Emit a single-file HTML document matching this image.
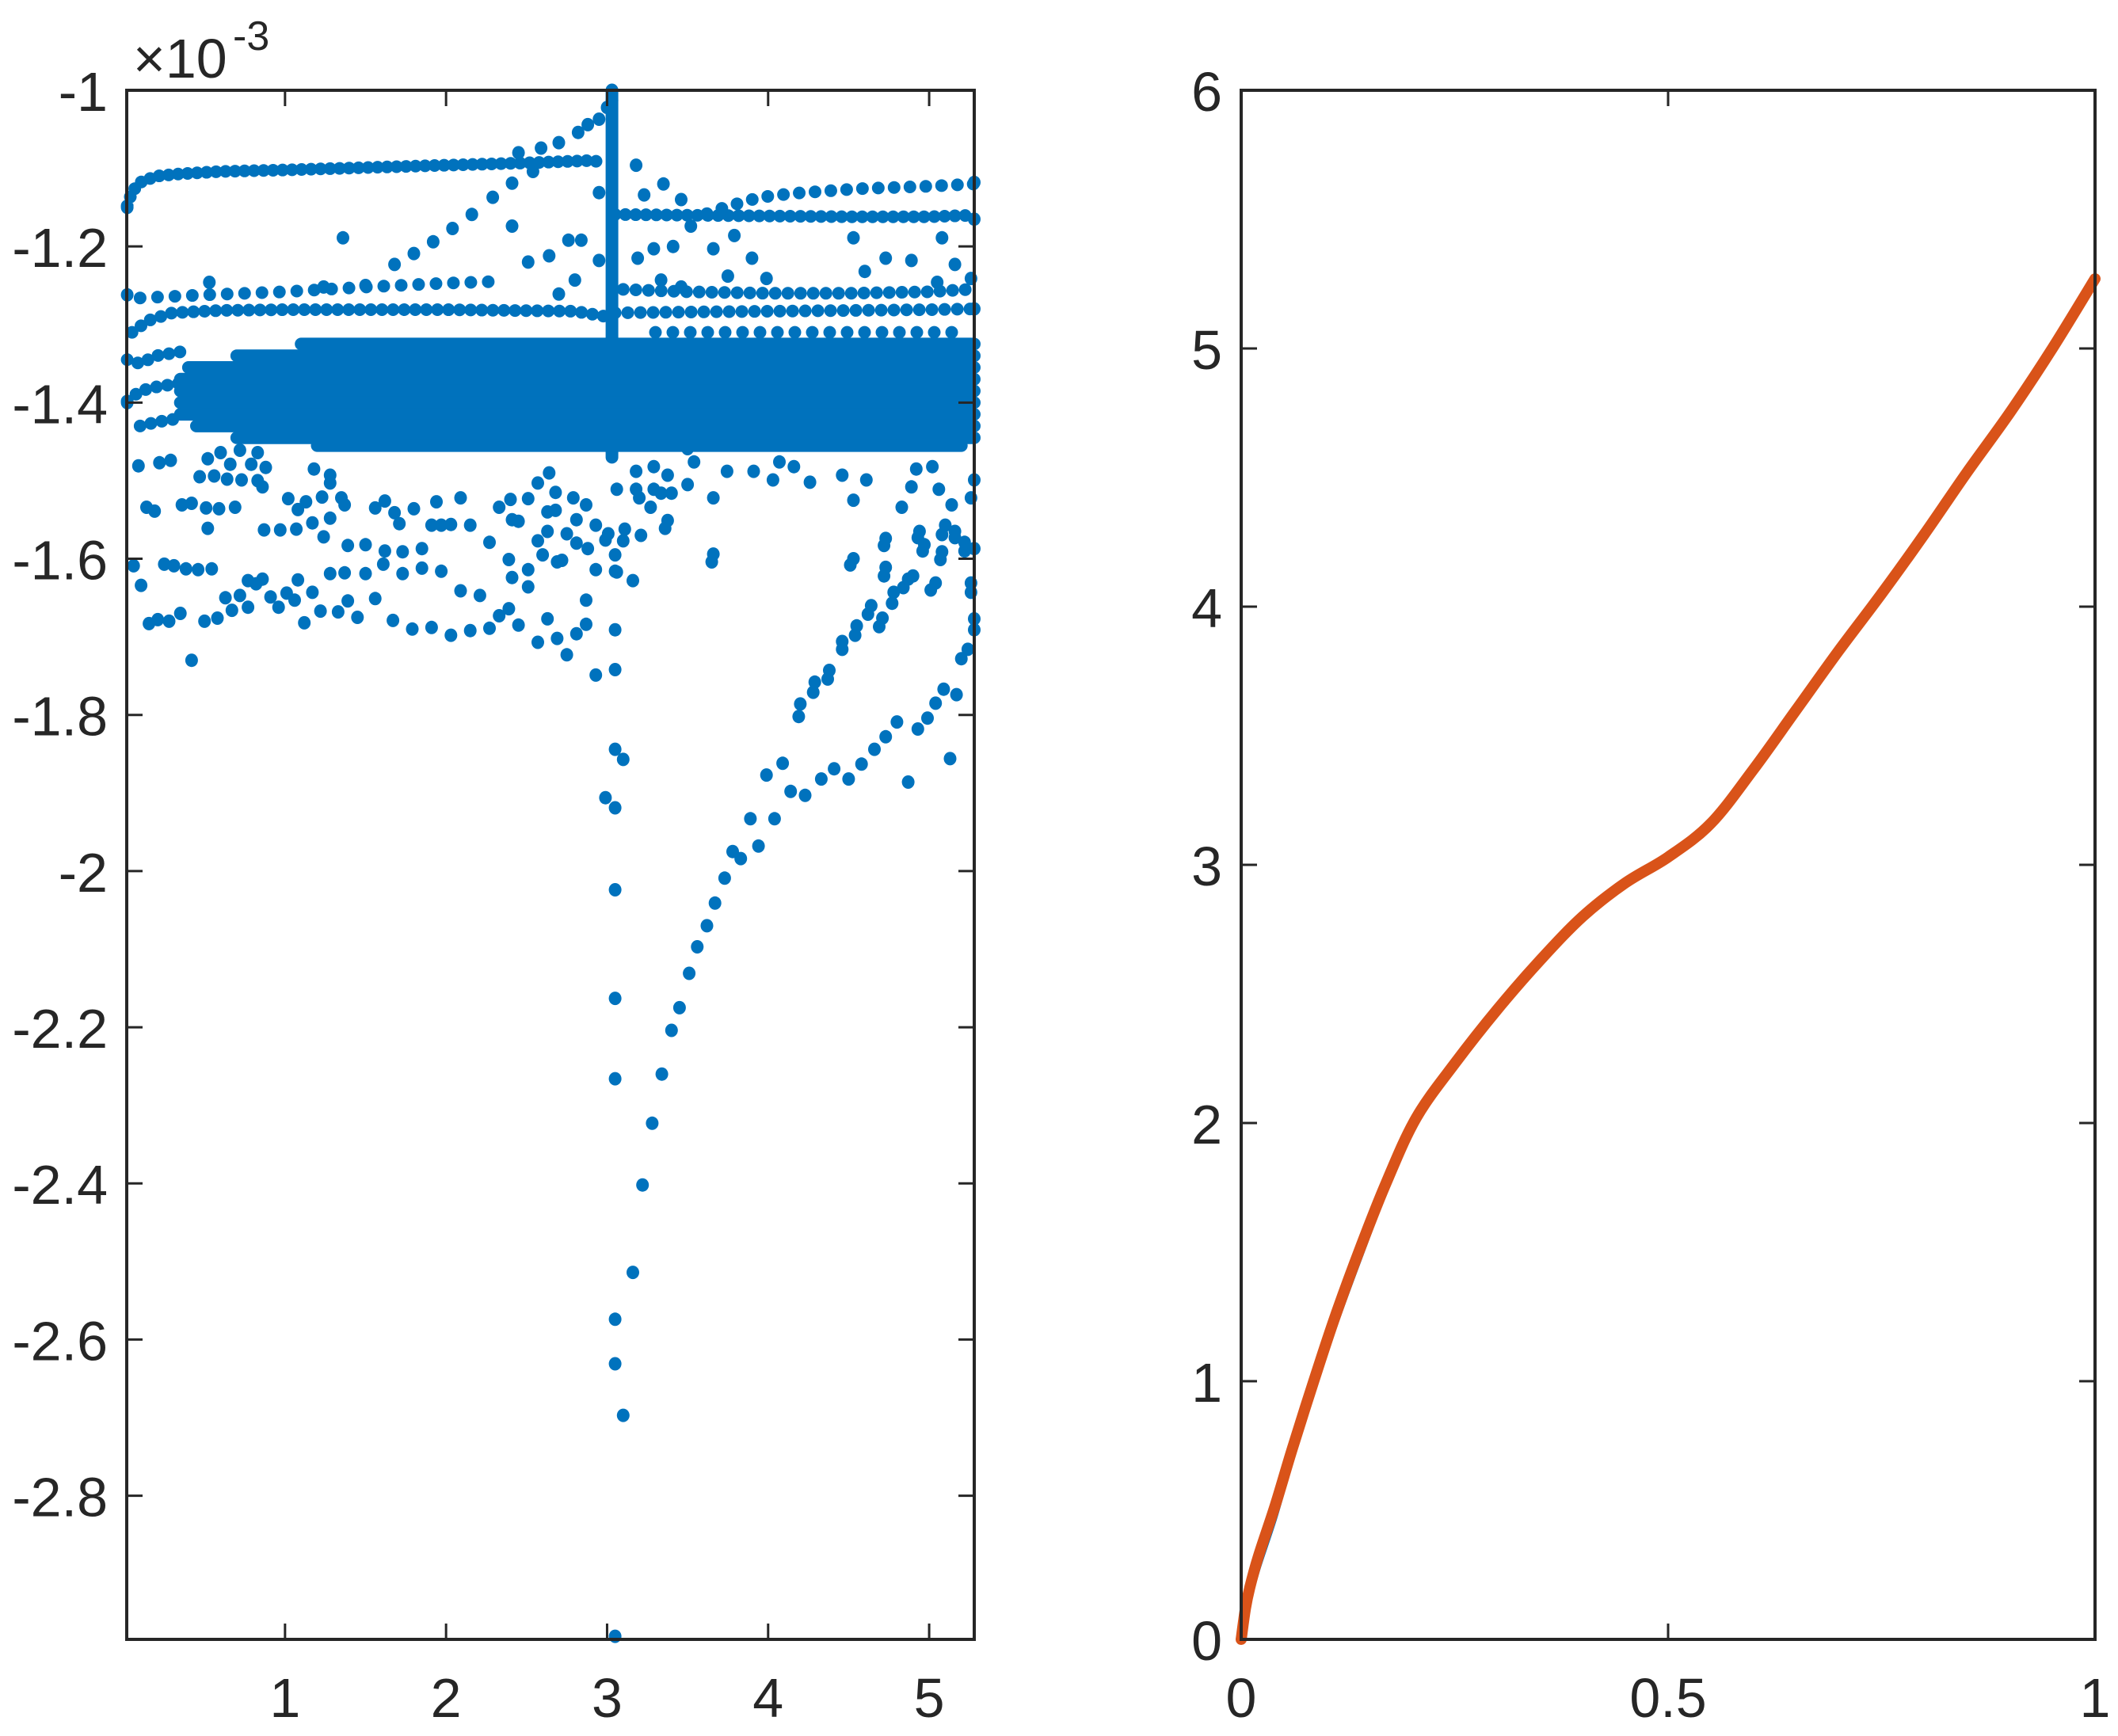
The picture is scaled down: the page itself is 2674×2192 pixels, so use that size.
<!DOCTYPE html>
<html><head><meta charset="utf-8"><title>Scatter and curve</title>
<style>
html,body{margin:0;padding:0;background:#fff;}
svg{display:block;font-family:"Liberation Sans",Arial,sans-serif;}
text{fill:#262626;}
</style></head>
<body>
<svg id="fig" width="2674" height="2192" viewBox="0 0 2674 2192" xmlns="http://www.w3.org/2000/svg">
<rect x="0" y="0" width="2674" height="2192" fill="#fff"/>
<g id="left"></g>
<g id="right"></g>
</svg>
<script>
// ---------- LEFT PANEL DATA ----------
const leftXTicks = [1,2,3,4,5];
const leftXTickLabels = ["1","2","3","4","5"];
const leftYTicks = [-1,-1.2,-1.4,-1.6,-1.8,-2,-2.2,-2.4,-2.6,-2.8];
const leftYTickLabels = ["-1","-1.2","-1.4","-1.6","-1.8","-2","-2.2","-2.4","-2.6","-2.8"];
const leftXLim = [0.017,5.28];
const leftYLim = [-2.984,-1];

const topBandX = [0.02,0.05,0.1,0.2,0.35,0.6,1.0,1.5,2.0,2.5,2.9,2.97];
const topBandY = [-1.148,-1.13,-1.118,-1.11,-1.107,-1.104,-1.102,-1.099,-1.096,-1.093,-1.09,-1.092];
const verticalX = [3.03,3.03];
const verticalY = [-1.0,-1.47];
const bandR1X = [3.05,3.5,4.0,4.5,5.0,5.28];
const bandR1Y = [-1.159,-1.16,-1.161,-1.162,-1.162,-1.16];
const bandR2X = [3.62,3.745,3.95,4.16,4.57,4.98,5.28];
const bandR2Y = [-1.158,-1.149,-1.137,-1.132,-1.126,-1.123,-1.12];
const bandBX = [0.1,0.5,1.0,1.5,2.0,2.3];
const bandBY = [-1.266,-1.262,-1.258,-1.252,-1.247,-1.245];
const bandCX = [0.05,0.15,0.3,0.6,1.0,2.0,2.8,3.0];
const bandCY = [-1.31,-1.295,-1.285,-1.282,-1.281,-1.281,-1.283,-1.29];
const bandR3X = [3.1,3.5,4.0,4.5,5.0,5.25];
const bandR3Y = [-1.255,-1.258,-1.26,-1.26,-1.258,-1.255];
const bandR4X = [3.05,3.5,4.0,4.5,5.0,5.28];
const bandR4Y = [-1.285,-1.284,-1.283,-1.282,-1.281,-1.28];
const bandR5X = [3.3,3.8,4.3,4.8,5.2];
const bandR5Y = [-1.31,-1.31,-1.31,-1.31,-1.31];
const leftBand1X = [0.02,0.1,0.2,0.35];
const leftBand1Y = [-1.345,-1.35,-1.34,-1.335];
const leftBand2X = [0.02,0.1,0.2,0.35];
const leftBand2Y = [-1.398,-1.385,-1.38,-1.375];
const leftBand3X = [0.1,0.2,0.35];
const leftBand3Y = [-1.43,-1.425,-1.42];
const blobLevels = [-1.325,-1.34,-1.355,-1.37,-1.385,-1.40,-1.415,-1.43,-1.445,-1.455];
const blobStart  = [1.1,0.7,0.4,0.35,0.35,0.35,0.35,0.45,0.7,1.2];
const blobEnd    = [5.28,5.28,5.28,5.28,5.28,5.28,5.28,5.28,5.28,5.2];

const spikePoints = [[2.45,-1.08],[2.59,-1.074],[2.70,-1.067],[2.82,-1.054],[2.88,-1.044],[2.95,-1.037],[3.0,-1.022],[3.03,-1.013],[3.03,-1.0]];
const upperScatter = [[0.02,-1.15],[0.02,-1.262],[0.02,-1.40],[1.36,-1.189],[1.80,-1.209],[1.92,-1.194],[2.04,-1.177],[2.16,-1.159],[2.29,-1.137],[2.41,-1.119],[2.54,-1.104],[2.41,-1.174],[2.51,-1.22],[2.64,-1.212],[2.76,-1.192],[2.84,-1.192],[2.95,-1.131],[2.95,-1.218],[2.80,-1.243],[2.70,-1.261],[3.18,-1.096],[3.23,-1.134],[3.35,-1.12],[3.46,-1.14],[3.52,-1.174],[3.66,-1.203],[3.79,-1.186],[3.90,-1.215],[3.41,-1.2],[3.29,-1.203],[3.19,-1.215],[3.99,-1.241],[3.75,-1.238],[4.53,-1.189],[4.73,-1.215],[4.89,-1.218],[4.60,-1.232],[5.08,-1.189],[5.16,-1.223],[5.05,-1.246],[5.26,-1.241],[3.335,-1.243],[3.46,-1.252],[5.28,-1.118],[5.28,-1.165],[5.28,-1.28],[0.53,-1.246],[1.24,-1.252],[1.68,-1.223],[1.5,-1.25]];
const lowerLeftScatter = [[0.09,-1.481],[0.22,-1.477],[0.29,-1.474],[0.52,-1.472],[0.6,-1.464],[0.66,-1.479],[0.72,-1.461],[0.79,-1.479],[0.83,-1.464],[0.88,-1.483],[0.47,-1.495],[0.56,-1.494],[0.64,-1.498],[0.73,-1.499],[0.83,-1.5],[0.86,-1.508],[0.14,-1.534],[0.19,-1.539],[0.36,-1.531],[0.42,-1.529],[0.51,-1.535],[0.59,-1.536],[0.69,-1.534],[0.52,-1.561],[0.87,-1.563],[0.97,-1.563],[1.07,-1.562],[1.17,-1.554],[1.28,-1.548],[1.24,-1.572],[1.02,-1.523],[1.13,-1.527],[1.08,-1.537],[1.23,-1.521],[1.35,-1.522],[1.37,-1.531],[1.18,-1.485],[1.28,-1.493],[1.28,-1.503],[1.39,-1.583],[1.5,-1.582],[1.62,-1.59],[1.73,-1.591],[1.85,-1.587],[1.56,-1.535],[1.62,-1.526],[1.68,-1.541],[1.71,-1.555],[1.8,-1.536],[1.94,-1.527],[2.09,-1.522],[1.91,-1.557],[1.97,-1.557],[2.03,-1.556],[2.15,-1.557],[2.27,-1.579],[0.06,-1.609],[0.25,-1.607],[0.31,-1.609],[0.385,-1.613],[0.46,-1.614],[0.545,-1.613],[0.106,-1.634],[0.77,-1.628],[0.86,-1.626],[0.82,-1.632],[1.08,-1.627],[1.28,-1.619],[1.37,-1.618],[1.5,-1.619],[1.61,-1.607],[1.73,-1.619],[1.85,-1.612],[1.97,-1.616],[0.63,-1.65],[0.72,-1.647],[0.67,-1.666],[0.77,-1.662],[0.91,-1.649],[0.96,-1.662],[1.01,-1.644],[1.06,-1.653],[1.17,-1.643],[1.39,-1.654],[1.56,-1.651],[0.155,-1.683],[0.21,-1.678],[0.28,-1.68],[0.35,-1.67],[0.5,-1.68],[0.58,-1.676],[1.12,-1.682],[1.22,-1.667],[1.33,-1.668],[1.45,-1.675],[1.67,-1.679],[1.79,-1.69],[1.91,-1.688],[2.03,-1.698],[2.15,-1.692],[2.27,-1.689],[2.33,-1.673],[2.39,-1.664],[2.45,-1.685],[2.57,-1.707],[2.69,-1.702],[2.75,-1.723],[2.81,-1.696],[2.87,-1.684],[2.93,-1.749],[0.42,-1.73],[2.09,-1.641],[2.21,-1.647],[2.39,-1.601],[2.41,-1.624],[2.51,-1.614],[2.51,-1.636],[2.63,-1.677],[2.87,-1.653],[2.93,-1.614],[2.69,-1.604],[2.72,-1.602],[2.6,-1.595],[2.57,-1.577],[2.63,-1.565],[2.75,-1.568],[2.81,-1.58],[2.88,-1.587],[2.63,-1.54],[2.68,-1.538],[2.81,-1.55],[2.87,-1.531],[2.93,-1.557],[2.33,-1.534],[2.41,-1.55],[2.45,-1.552],[2.51,-1.523],[2.4,-1.524],[2.68,-1.515],[2.79,-1.522],[2.57,-1.503],[2.64,-1.49]];
const dipScatter = [[3.05,-1.691],[3.05,-1.742],[3.05,-1.844],[3.1,-1.857],[2.99,-1.906],[3.05,-1.919],[3.05,-2.024],[3.05,-2.163],[3.05,-2.266],[3.05,-2.574],[3.05,-2.631],[3.1,-2.697],[3.05,-2.98],[3.16,-2.514],[3.22,-2.402],[3.28,-2.323],[3.34,-2.26],[3.4,-2.204],[3.45,-2.175],[3.51,-2.131],[3.56,-2.097],[3.62,-2.07],[3.67,-2.041],[3.73,-2.009],[3.78,-1.975],[3.83,-1.984],[3.89,-1.933],[3.94,-1.968],[3.99,-1.877],[4.04,-1.933],[4.09,-1.862],[4.14,-1.898],[4.19,-1.802],[4.23,-1.903],[4.28,-1.771],[4.33,-1.882],[4.37,-1.754],[4.41,-1.869],[4.46,-1.716],[4.5,-1.882],[4.54,-1.698],[4.58,-1.863],[4.62,-1.671],[4.66,-1.844],[4.69,-1.687],[4.73,-1.828],[4.77,-1.657],[4.8,-1.809],[4.84,-1.637],[4.87,-1.886],[4.9,-1.622],[4.93,-1.818],[4.96,-1.59],[4.99,-1.804],[5.01,-1.64],[5.04,-1.785],[5.07,-1.601],[5.09,-1.767],[5.13,-1.856],[5.17,-1.774],[5.2,-1.728],[5.24,-1.716],[5.26,-1.643],[5.28,-1.691]];
const rightMidScatter = [[4.51,-1.608],[4.72,-1.583],[4.72,-1.622],[4.93,-1.573],[5.08,-1.569],[5.16,-1.573],[5.22,-1.59],[5.28,-1.587],[3.65,-1.604],[3.36,-1.561],[3.21,-1.57],[3.16,-1.628],[3.05,-1.595],[3.05,-1.616],[3.1,-1.577],[2.99,-1.576],[3.18,-1.488],[3.29,-1.482],[3.376,-1.493],[3.50,-1.459],[3.54,-1.476],[3.18,-1.511],[3.29,-1.511],[3.40,-1.516],[3.50,-1.505],[3.20,-1.522],[3.27,-1.534],[3.66,-1.522],[3.66,-1.594],[3.745,-1.488],[3.91,-1.488],[4.03,-1.499],[4.07,-1.476],[4.16,-1.482],[4.26,-1.502],[4.46,-1.493],[4.53,-1.525],[4.53,-1.600],[4.61,-1.499],[4.73,-1.574],[4.73,-1.611],[4.83,-1.534],[4.89,-1.508],[4.94,-1.565],[4.92,-1.485],[4.97,-1.582],[5.02,-1.482],[5.04,-1.631],[5.06,-1.511],[5.08,-1.591],[5.14,-1.531],[5.16,-1.565],[5.22,-1.579],[5.26,-1.631],[5.26,-1.522],[5.28,-1.677],[5.28,-1.499],[5.10,-1.557],[4.87,-1.626],[4.78,-1.643],[4.64,-1.660],[4.71,-1.676],[4.55,-1.686],[4.46,-1.706],[4.38,-1.743],[4.29,-1.758],[4.20,-1.786],[3.06,-1.617],[3.06,-1.511],[3.335,-1.516],[3.376,-1.551],[3.11,-1.562],[3.007,-1.568]];

// ---------- RIGHT PANEL DATA ----------
const rightXTicks = [0,0.5,1];
const rightXTickLabels = ["0","0.5","1"];
const rightYTicks = [0,1,2,3,4,5,6];
const rightYTickLabels = ["0","1","2","3","4","5","6"];
const curveX = [0,0.005,0.01,0.02,0.04,0.06,0.085,0.11,0.14,0.17,0.205,0.25,0.3,0.35,0.4,0.45,0.5,0.55,0.6,0.65,0.7,0.75,0.8,0.85,0.9,0.95,1];
const curveBlueY = [0,0.08,0.15,0.27,0.47,0.7,0.96,1.21,1.48,1.74,2.0,2.21,2.43,2.62,2.79,2.93,3.03,3.16,3.37,3.6,3.83,4.06,4.29,4.52,4.76,5.01,5.27];
const curveOrangeY = [0,0.12,0.2,0.32,0.52,0.74,1.0,1.25,1.52,1.77,2.02,2.23,2.44,2.63,2.8,2.93,3.03,3.16,3.37,3.6,3.83,4.05,4.28,4.52,4.75,5.0,5.27];

// ---------- RENDERING ----------
const NS = "http://www.w3.org/2000/svg";
const BLUE = "#0072BD", ORANGE = "#D95319", INK = "#262626";
const L = {x0:160, x1:1230, y0:114, y1:2070};
const R = {x0:1567, x1:2645, y0:114, y1:2070};
function lsx(v){ return L.x0 + (v-leftXLim[0])/(leftXLim[1]-leftXLim[0])*(L.x1-L.x0); }
function lsy(v){ return L.y1 - (v-leftYLim[0])/(leftYLim[1]-leftYLim[0])*(L.y1-L.y0); }
function rsx(v){ return R.x0 + v*(R.x1-R.x0); }
function rsy(v){ return R.y1 - v/6*(R.y1-R.y0); }
function mk(tag, attrs){ const e=document.createElementNS(NS,tag); for(const k in attrs) e.setAttribute(k,attrs[k]); return e; }
const gL = document.getElementById("left");
const gR = document.getElementById("right");

function band(xs, ys, name, dotted){
  const pts = xs.map((x,i)=>lsx(x).toFixed(1)+","+lsy(ys[i]).toFixed(1)).join(" ");
  const attrs = {points:pts,fill:"none",stroke:BLUE,"stroke-width":16,"stroke-linecap":"round","stroke-linejoin":"round"};
  if(dotted){ attrs["stroke-dasharray"] = "0 " + dotted; }
  const p = mk("polyline",attrs);
  
  
  gL.appendChild(p);
}
function dots(arr, name){
  const g = mk("g",{fill:BLUE});
  
  
  arr.forEach(pt=>{
    const c = mk("ellipse",{cx:lsx(pt[0]).toFixed(1),cy:lsy(pt[1]).toFixed(1),rx:8,ry:8.5});
    
    
    g.appendChild(c);
  });
  gL.appendChild(g);
}
band(topBandX, topBandY, "top-band", 12);
band(verticalX, verticalY, "vertical-band");
band(bandR1X, bandR1Y, "right-band-1", 13);
band(bandR2X, bandR2Y, "right-band-2", 20);
band(bandBX, bandBY, "left-band-b", 22);
band(bandCX, bandCY, "left-band-c", 14);
band(bandR3X, bandR3Y, "right-band-3", 16);
band(bandR4X, bandR4Y, "right-band-4", 16);
band(bandR5X, bandR5Y, "right-band-5", 22);
band(leftBand1X, leftBand1Y, "left-band-1", 14);
band(leftBand2X, leftBand2Y, "left-band-2", 14);
band(leftBand3X, leftBand3Y, "left-band-3", 14);
blobLevels.forEach((lv,i)=>{
  band([blobStart[i], blobEnd[i]], [lv, lv], "dense-cloud-row");
});
dots(spikePoints, "spike-points");
dots(upperScatter, "upper-scatter");
dots(lowerLeftScatter, "lower-left-scatter");
dots(dipScatter, "dip-scatter");
dots(rightMidScatter, "right-mid-scatter");

function axes(g, box, xt, xtl, yt, ytl, sx, sy, prefix){
  const frame = mk("rect",{x:box.x0,y:box.y0,width:box.x1-box.x0,height:box.y1-box.y0,fill:"none",stroke:INK,"stroke-width":4});
  
  
  g.appendChild(frame);
  xt.forEach((v,i)=>{
    const x = sx(v);
    const t1 = mk("line",{x1:x,y1:box.y1,x2:x,y2:box.y1-20,stroke:INK,"stroke-width":3});
    
    
    g.appendChild(t1);
    const t2 = mk("line",{x1:x,y1:box.y0,x2:x,y2:box.y0+20,stroke:INK,"stroke-width":3});
    
    
    g.appendChild(t2);
    const tx = mk("text",{x:x,y:box.y1+98,"font-size":70,"text-anchor":"middle"});
    tx.textContent = xtl[i];
    
    
    g.appendChild(tx);
  });
  yt.forEach((v,i)=>{
    const y = sy(v);
    const t1 = mk("line",{x1:box.x0,y1:y,x2:box.x0+20,y2:y,stroke:INK,"stroke-width":3});
    
    
    g.appendChild(t1);
    const t2 = mk("line",{x1:box.x1,y1:y,x2:box.x1-20,y2:y,stroke:INK,"stroke-width":3});
    
    
    g.appendChild(t2);
    const ty = mk("text",{x:box.x0-24,y:y+26,"font-size":70,"text-anchor":"end"});
    ty.textContent = ytl[i];
    
    
    g.appendChild(ty);
  });
}
axes(gL, L, leftXTicks, leftXTickLabels, leftYTicks, leftYTickLabels, lsx, lsy, "left");

const ex = mk("text",{x:168,y:98,"font-size":70});
ex.textContent = "\u00d710";


gL.appendChild(ex);
const ex2 = mk("text",{x:294,y:63,"font-size":52});
ex2.textContent = "-3";


gL.appendChild(ex2);

// smooth path through data points (Catmull-Rom)
function smoothPath(xs, ys){
  const P = xs.map((x,i)=>[rsx(x), rsy(ys[i])]);
  let d = "M"+P[0][0].toFixed(1)+","+P[0][1].toFixed(1);
  for(let i=0;i<P.length-1;i++){
    const p0=P[Math.max(0,i-1)], p1=P[i], p2=P[i+1], p3=P[Math.min(P.length-1,i+2)];
    const c1=[p1[0]+(p2[0]-p0[0])/6, p1[1]+(p2[1]-p0[1])/6];
    const c2=[p2[0]-(p3[0]-p1[0])/6, p2[1]-(p3[1]-p1[1])/6];
    d += " C"+c1[0].toFixed(1)+","+c1[1].toFixed(1)+" "+c2[0].toFixed(1)+","+c2[1].toFixed(1)+" "+p2[0].toFixed(1)+","+p2[1].toFixed(1);
  }
  return d;
}
function curve(xs, ys, color, w, name){
  const p = mk("path",{d:smoothPath(xs,ys),fill:"none",stroke:color,"stroke-width":w,"stroke-linecap":"round","stroke-linejoin":"round"});
  
  
  gR.appendChild(p);
}
curve(curveX, curveBlueY, BLUE, 5, "blue-curve");
curve(curveX, curveOrangeY, ORANGE, 14, "orange-curve");
axes(gR, R, rightXTicks, rightXTickLabels, rightYTicks, rightYTickLabels, rsx, rsy, "right");
</script>
</body></html>
